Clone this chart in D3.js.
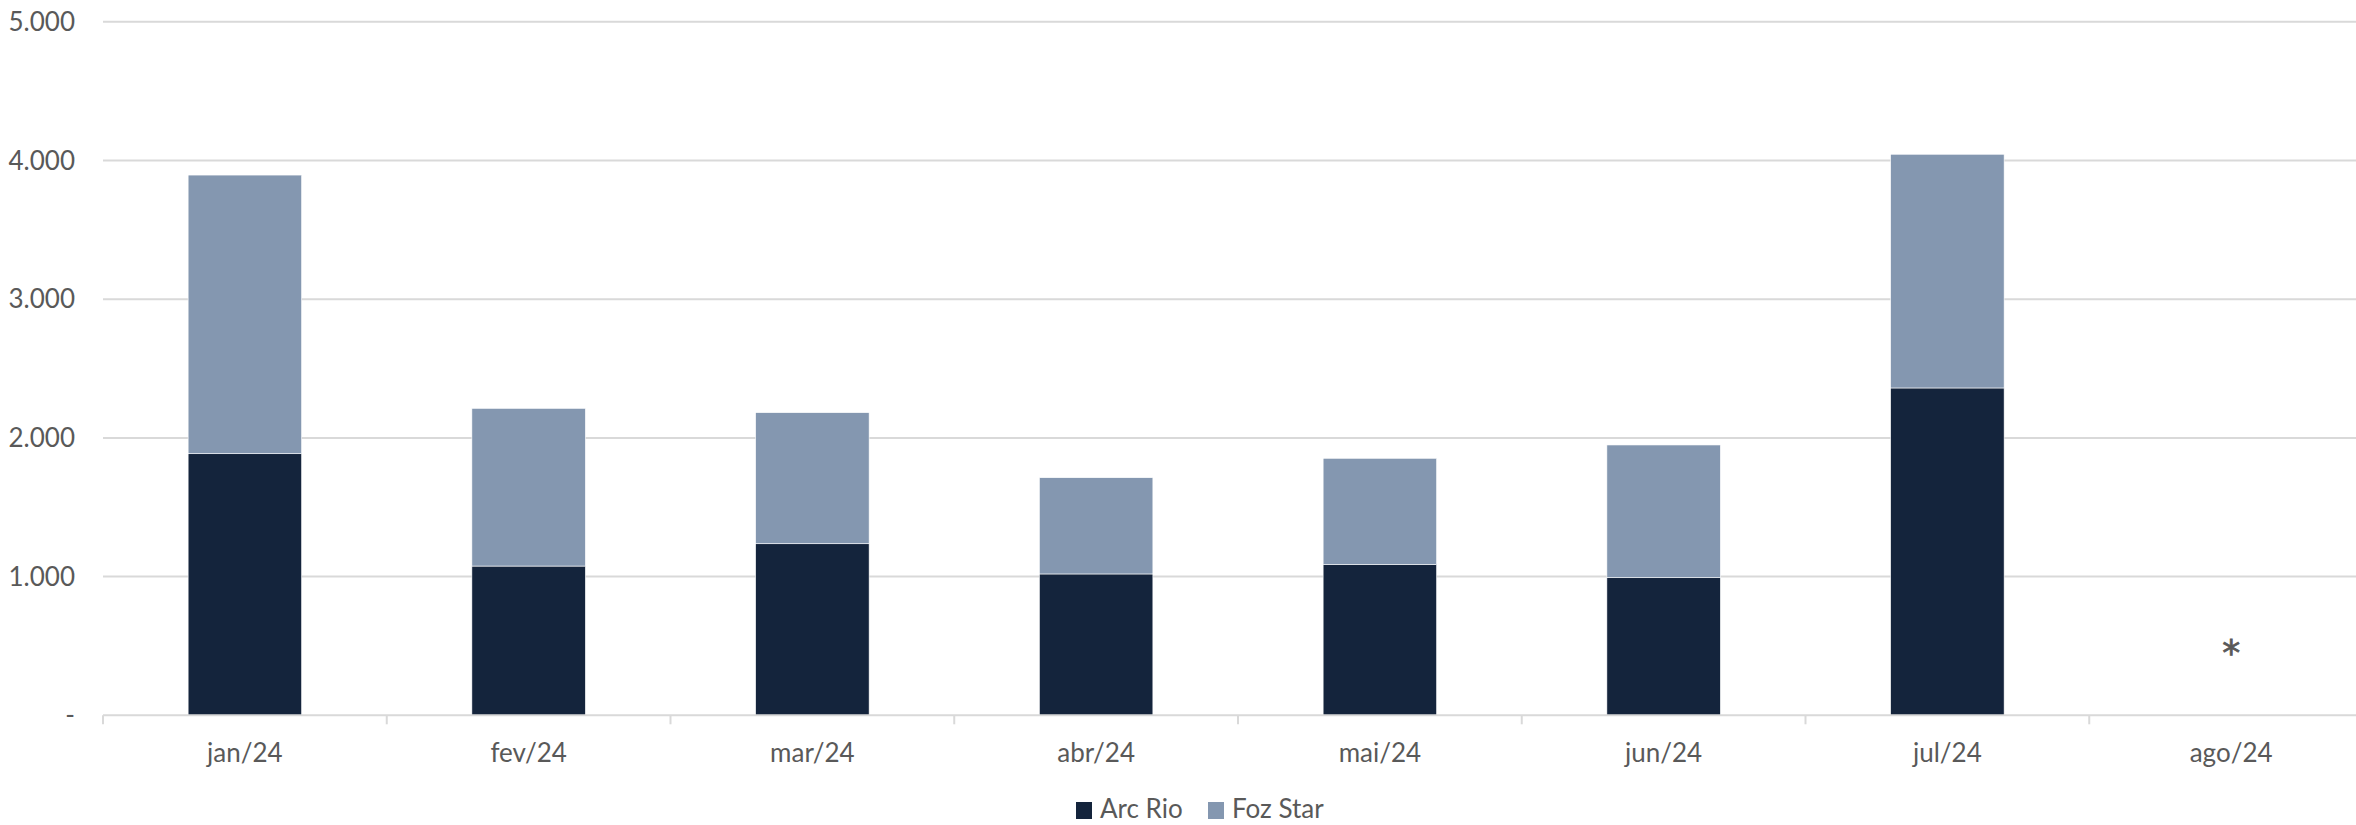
<!DOCTYPE html>
<html>
<head>
<meta charset="utf-8">
<script src="https://cdn.jsdelivr.net/npm/d3@7"></script>
<style>
  body { margin: 0; background: #fff; }
  text { font-family: Lato, "Open Sans", sans-serif; fill: #595959; }
</style>
</head>
<body>
<div id="chart"></div>
<script>
// data
const months = ['jan/24', 'fev/24', 'mar/24', 'abr/24', 'mai/24', 'jun/24', 'jul/24', 'ago/24'];
const arcRio = [1886, 1076, 1237, 1019, 1086, 992, 2360, 0];
const fozStar = [2009, 1137, 945, 694, 767, 957, 1685, 0];
const yTicks = [0, 1000, 2000, 3000, 4000, 5000];
const seriesNames = ['Arc Rio', 'Foz Star'];
const colors = ['#14243c', '#8497b0'];

const width = 2356;
const height = 825;
const margin = { top: 22, left: 103, bottom: 110 };
const step = 283.75;

const svg = d3.select('#chart')
  .append('svg')
  .attr('width', width)
  .attr('height', height);

const x = d3.scaleBand()
  .domain(months)
  .range([margin.left, margin.left + step * months.length])
  .paddingInner(0.6)
  .paddingOuter(0.3);

const y = d3.scaleLinear()
  .domain([0, 5000])
  .range([715.3, 21.8]);

const locale = d3.formatLocale({ decimal: ',', thousands: '.', grouping: [3], currency: ['R$', ''] });
const fmt = locale.format(',d');

// gridlines
svg.append('g')
  .selectAll('line')
  .data(yTicks.slice(1))
  .enter()
  .append('line')
  .attr('x1', margin.left)
  .attr('x2', width)
  .attr('y1', d => y(d))
  .attr('y2', d => y(d))
  .attr('stroke', '#d9d9d9')
  .attr('stroke-width', 2);

// y labels
svg.append('g')
  .selectAll('text')
  .data(yTicks)
  .enter()
  .append('text')
  .attr('x', 75)
  .attr('y', d => y(d))
  .attr('dy', '0.35em')
  .attr('text-anchor', 'end')
  .style('font-size', '26px')
  .text(d => d === 0 ? '-' : fmt(d));

// stacked bars
const table = months.map((m, i) => ({ month: m, 'Arc Rio': arcRio[i], 'Foz Star': fozStar[i] }));
const stack = d3.stack().keys(seriesNames)(table);

svg.append('g')
  .selectAll('g')
  .data(stack)
  .enter()
  .append('g')
  .attr('fill', (d, i) => colors[i])
  .selectAll('rect')
  .data(d => d)
  .enter()
  .append('rect')
  .attr('x', d => x(d.data.month))
  .attr('width', x.bandwidth())
  .attr('y', d => y(d[1]))
  .attr('height', d => y(d[0]) - y(d[1]))
  .attr('stroke', '#fff')
  .attr('stroke-width', 0.6);

// x axis
const xAxis = d3.axisBottom(x).tickSize(0).tickPadding(0);
const gx = svg.append('g')
  .attr('transform', `translate(0,${y(0)})`)
  .call(xAxis);
gx.select('.domain').remove();
gx.selectAll('text')
  .attr('y', 47)
  .attr('dy', 0)
  .style('font-size', '26px')
  .style('font-family', 'Lato, "Open Sans", sans-serif')
  .attr('fill', '#595959');

svg.append('line')
  .attr('x1', margin.left)
  .attr('x2', width)
  .attr('y1', y(0))
  .attr('y2', y(0))
  .attr('stroke', '#d9d9d9')
  .attr('stroke-width', 2);

svg.append('g')
  .selectAll('line')
  .data(d3.range(months.length))
  .enter()
  .append('line')
  .attr('x1', i => margin.left + i * step)
  .attr('x2', i => margin.left + i * step)
  .attr('y1', y(0))
  .attr('y2', y(0) + 9)
  .attr('stroke', '#d9d9d9')
  .attr('stroke-width', 2);

// asterisk for ago/24
svg.append('text')
  .attr('x', x('ago/24') + x.bandwidth() / 2)
  .attr('y', 665)
  .attr('text-anchor', 'middle')
  .style('font-family', '"DejaVu Sans", sans-serif')
  .style('font-size', '36px')
  .style('stroke', '#595959')
  .style('stroke-width', 0.8)
  .text('*');

// legend
const legend = svg.append('g');
const legendX = [1076, 1208];
seriesNames.forEach((name, i) => {
  legend.append('rect')
    .attr('x', legendX[i])
    .attr('y', 802)
    .attr('width', 16)
    .attr('height', 17)
    .attr('fill', colors[i]);
  legend.append('text')
    .attr('x', legendX[i] + 24)
    .attr('y', 818)
    .style('font-size', '26px')
    .text(name);
});
</script>
</body>
</html>
